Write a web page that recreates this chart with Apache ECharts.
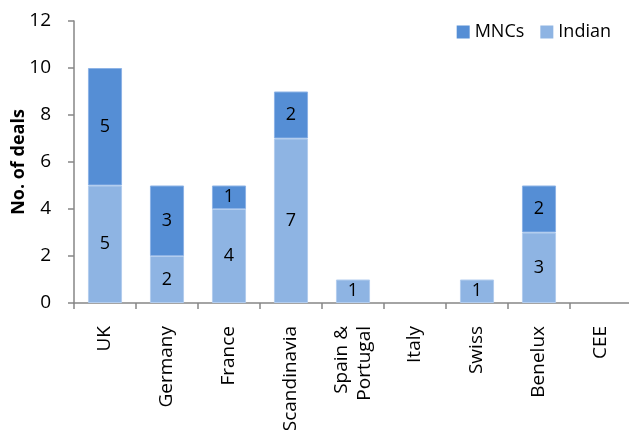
<!DOCTYPE html>
<html>
<head>
<meta charset="utf-8">
<script src="https://cdn.jsdelivr.net/npm/echarts@6/dist/echarts.min.js"></script>
<style>
  html, body { margin: 0; padding: 0; background: #fff; }
  #chart { width: 629px; height: 430px; }
</style>
</head>
<body>
<div id="chart"></div>
<script>
// Deals by region, split by acquirer type
const regions = ['UK', 'Germany', 'France', 'Scandinavia', 'Spain &\nPortugal', 'Italy', 'Swiss', 'Benelux', 'CEE'];
const indianDeals = [5, 2, 4, 7, 1, 0, 1, 3, 0];
const mncDeals = [5, 3, 1, 2, 0, 0, 0, 2, 0];
const yTicks = [0, 2, 4, 6, 8, 10, 12];

const FONT = '"Open Sans", "Noto Sans", sans-serif';
const AXIS_GREY = '#868686';

// empty segments are left out so no zero-height sliver is drawn
const asBars = arr => arr.map(v => (v > 0 ? v : null));

const segLabel = {
  show: true,
  position: 'inside',
  color: '#000',
  fontFamily: FONT,
  fontSize: 18,
  formatter: p => String(p.value)
};

const chart = echarts.init(document.getElementById('chart'), null, { renderer: 'canvas' });
chart.setOption({
  animation: false,
  textStyle: { fontFamily: FONT },
  grid: {
    left: 74, right: -3, top: 21, bottom: 127,
    containLabel: false,
    outerBoundsMode: 'none'
  },
  legend: {
    data: ['MNCs', 'Indian'],
    right: 13,
    top: 18,
    itemWidth: 13,
    itemHeight: 13,
    itemGap: 16,
    icon: 'rect',
    itemStyle: { borderWidth: 0 },
    textStyle: { fontFamily: FONT, fontSize: 18, color: '#000' }
  },
  xAxis: {
    type: 'category',
    data: regions,
    axisLine: { lineStyle: { color: AXIS_GREY, width: 1.5 } },
    axisTick: { show: true, alignWithLabel: false, length: 6, lineStyle: { color: AXIS_GREY, width: 1.5 } },
    axisLabel: {
      rotate: 90,
      interval: 0,
      margin: 23,
      color: '#000',
      fontFamily: FONT,
      fontSize: 19,
      lineHeight: 23
    }
  },
  yAxis: {
    type: 'value',
    min: yTicks[0],
    max: yTicks[yTicks.length - 1],
    interval: 2,
    name: 'No. of deals',
    nameLocation: 'middle',
    nameGap: 46,
    nameMoveOverlap: false,
    nameRotate: 90,
    nameTextStyle: { fontFamily: FONT, fontSize: 18, fontWeight: 'bold', color: '#000' },
    splitLine: { show: false },
    axisLine: { show: true, lineStyle: { color: AXIS_GREY, width: 1.5 } },
    axisTick: { show: true, length: 6, lineStyle: { color: AXIS_GREY, width: 1.5 } },
    axisLabel: { color: '#000', fontFamily: FONT, fontSize: 19, margin: 23 }
  },
  series: [
    {
      name: 'Indian',
      type: 'bar',
      stack: 'deals',
      barWidth: '55%',
      data: asBars(indianDeals),
      itemStyle: { color: '#8EB4E3', borderColor: '#B3CDEE', borderWidth: 1 },
      label: segLabel
    },
    {
      name: 'MNCs',
      type: 'bar',
      stack: 'deals',
      barWidth: '55%',
      data: asBars(mncDeals),
      itemStyle: { color: '#558ED5', borderColor: '#8DB3E6', borderWidth: 1 },
      label: segLabel
    }
  ]
});
</script>
</body>
</html>
